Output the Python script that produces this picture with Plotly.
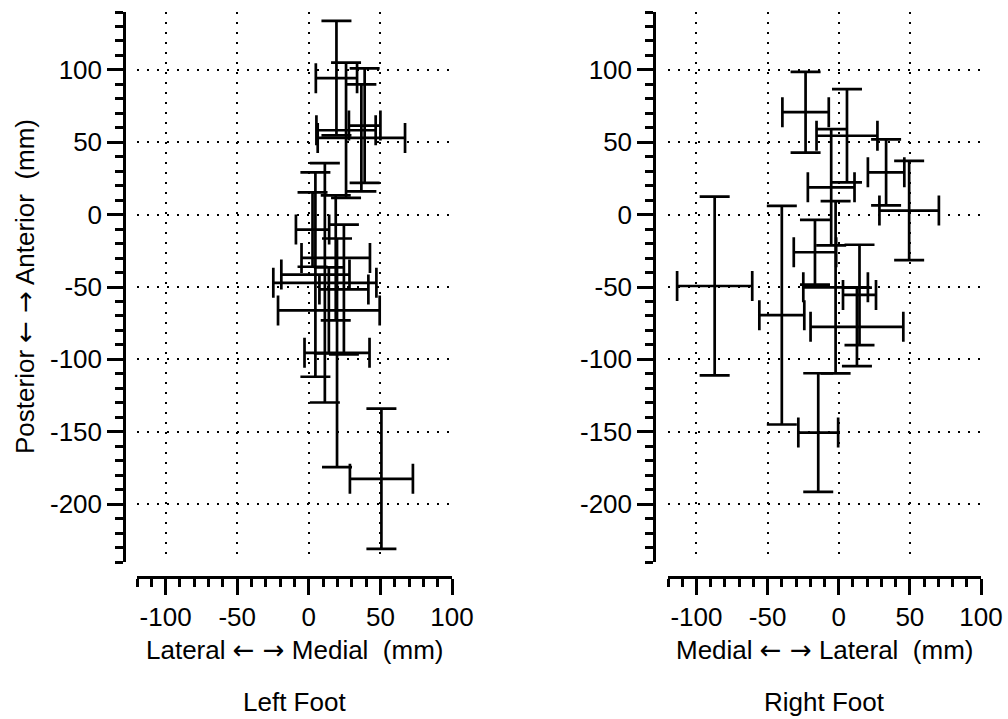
import plotly.graph_objects as go

# ---- data (mm) ----
left_x  = [19.3, 26.0, 36.7, 39.0, 2.6, 18.8, 4.6, 11.2, 24.5, 14.0, 19.7, 50.7]
left_sx = [14.4, 20.7, 30.5, 11.0, 11.6, 23.9, 23.8, 36.0, 17.1, 35.5, 22.7, 22.0]
left_y  = [94.3, 58.3, 53.0, 61.5, -10.3, -29.9, -41.4, -47.1, -51.7, -66.2, -95.5, -182.5]
left_sy = [39.5, 46.7, 37.0, 39.5, 25.7, 43.2, 70.6, 82.7, 44.8, 29.7, 79.0, 48.5]

right_x  = [-23.3, 5.8, -5.3, 33.3, 49.5, -16.7, 14.6, -87.2, -40.0, -14.4, -2.2, 12.8]
right_sx = [16.3, 21.4, 16.4, 12.8, 20.9, 14.9, 11.6, 26.4, 15.8, 14.0, 22.7, 32.6]
right_y  = [70.8, 54.5, 18.9, 29.2, 2.8, -26.0, -55.5, -49.3, -69.5, -150.6, -50.2, -77.5]
right_sy = [27.9, 32.2, 40.2, 22.8, 34.3, 22.4, 34.7, 61.8, 75.5, 41.0, 59.5, 27.1]

x_tickvals = [-100, -50, 0, 50, 100]
x_ticktext = ["-100", "-50", "0", "50", "100"]
y_tickvals = [100, 50, 0, -50, -100, -150, -200]
y_ticktext = ["100", "50", "0", "-50", "-100", "-150", "-200"]

ARROWS = '<span style="font-family:DejaVu Sans">← →</span>'
left_xtitle = "Lateral " + ARROWS + " Medial\u00a0 (mm)"
right_xtitle = "Medial " + ARROWS + " Lateral\u00a0 (mm)"
ytitle = "Posterior " + ARROWS + " Anterior\u00a0 (mm)"
panel_titles = ["Left Foot", "Right Foot"]

FONT = "Liberation Sans, Arial, Helvetica, sans-serif"
FS = 26
W, H = 1008, 719

fig = go.Figure()


def add_cross(xs, sx, ys, sy, xa, ya):
    fig.add_trace(go.Scatter(
        x=xs, y=ys, mode="markers", xaxis=xa, yaxis=ya,
        marker=dict(size=2, color="rgba(0,0,0,0)"),
        error_x=dict(type="data", array=sx, symmetric=True, color="black",
                     thickness=2.7, width=15),
        error_y=dict(type="data", array=sy, symmetric=True, color="black",
                     thickness=2.7, width=15),
        showlegend=False, hoverinfo="skip", cliponaxis=False,
    ))


add_cross(left_x, left_sx, left_y, left_sy, "x", "y")
add_cross(right_x, right_sx, right_y, right_sy, "x2", "y2")

common_x = dict(
    range=[-120, 100], anchor="free", position=(H - 577) / H,
    tickmode="array", tickvals=x_tickvals, ticktext=x_ticktext,
    showline=True, linecolor="black", linewidth=2.5,
    ticks="outside", ticklen=16, tickwidth=2.5, tickcolor="black",
    minor=dict(tickmode="linear", tick0=0, dtick=10, ticks="outside",
               ticklen=8, tickwidth=2.5, tickcolor="black", showgrid=False),
    showgrid=True, gridcolor="black", gridwidth=2, griddash="2px,8px",
    zeroline=False, tickfont=dict(family=FONT, size=FS, color="black"),
    fixedrange=True, automargin=False,
)
common_y = dict(
    range=[-240, 140], domain=[(H - 562) / H, (H - 12) / H],
    tickmode="array", tickvals=y_tickvals, ticktext=y_ticktext,
    showline=True, linecolor="black", linewidth=2.5,
    ticks="outside", ticklen=16, tickwidth=2.5, tickcolor="black",
    minor=dict(tickmode="linear", tick0=0, dtick=10, ticks="outside",
               ticklen=8, tickwidth=2.5, tickcolor="black", showgrid=False),
    showgrid=True, gridcolor="black", gridwidth=2, griddash="2px,8px",
    zeroline=False, tickfont=dict(family=FONT, size=FS, color="black"),
    anchor="free", fixedrange=True, automargin=False,
)

fig.update_layout(
    width=W, height=H, autosize=False,
    margin=dict(l=0, r=0, t=0, b=0, pad=0, autoexpand=False),
    paper_bgcolor="white", plot_bgcolor="white",
    xaxis=dict(domain=[137 / W, 452 / W], **common_x),
    xaxis2=dict(domain=[668 / W, 981 / W], **common_x),
    yaxis=dict(position=124 / W, **common_y),
    yaxis2=dict(position=654 / W, **common_y),
    showlegend=False,
)

ann_font = dict(family=FONT, size=FS, color="black")
annotations = [
    dict(text=left_xtitle, x=(137 + 452) / 2 / W, y=(H - 650) / H),
    dict(text=right_xtitle, x=(668 + 981) / 2 / W, y=(H - 650) / H),
    dict(text=panel_titles[0], x=(137 + 452) / 2 / W, y=(H - 702) / H),
    dict(text=panel_titles[1], x=(668 + 981) / 2 / W, y=(H - 702) / H),
    dict(text=ytitle, x=25 / W, y=(H - 287) / H, textangle=-90),
]
for a in annotations:
    a.update(xref="paper", yref="paper", showarrow=False, font=ann_font,
             xanchor="center", yanchor="middle")
fig.update_layout(annotations=annotations)

fig.write_html("out.html")
